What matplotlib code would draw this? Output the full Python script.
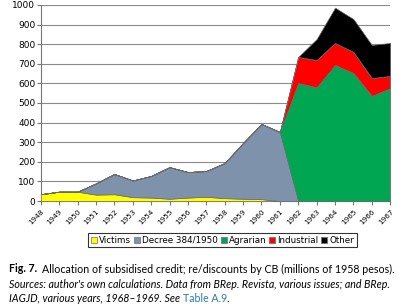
import matplotlib.pyplot as plt

# data (millions of 1958 pesos)
years = list(range(1948, 1968))
victims = [35, 48, 48, 33, 35, 20, 18, 12, 18, 22, 15, 12, 10, 0, 0, 0, 0, 0, 0, 0]
decree = [0, 0, 0, 57, 103, 85, 110, 161, 130, 131, 179, 284, 383, 352, 0, 0, 0, 0, 0, 0]
agrarian = [0, 0, 0, 0, 0, 0, 0, 0, 0, 0, 0, 0, 0, 0, 602, 580, 694, 653, 536, 576]
industrial = [0, 0, 0, 0, 0, 0, 0, 0, 0, 0, 0, 0, 0, 0, 133, 139, 112, 107, 91, 62]
other = [0, 0, 0, 0, 0, 0, 0, 0, 0, 0, 0, 0, 0, 0, 0, 107, 180, 168, 169, 168]

labels = ["Victims", "Decree 384/1950", "Agrarian", "Industrial", "Other"]
colors = ["#ffff00", "#7f92ab", "#00a651", "#ff0000", "#000000"]
yticks = list(range(0, 1001, 100))

fig = plt.figure(figsize=(4.16, 3.07), dpi=100)
ax = fig.add_axes([0.098, 0.345, 0.84, 0.639])

polys = ax.stackplot(years, victims, decree, agrarian, industrial, other,
                     colors=colors, labels=labels, zorder=3)
for p in polys:
    p.set_edgecolor("#6b6b6b")
    p.set_linewidth(0.5)

ax.set_xlim(years[0], years[-1])
ax.set_ylim(0, 1000)
ax.set_yticks(yticks)
ax.set_xticks(years)
ax.set_xticklabels([str(y) for y in years], rotation=45, ha="right",
                   rotation_mode="anchor", fontsize=5.2)
ax.tick_params(axis="y", labelsize=6.5, length=3, color="#777777", pad=1)
ax.tick_params(axis="x", length=3, color="#777777", pad=2.5)
ax.grid(axis="y", color="#8a8a8a", linewidth=0.8, zorder=1)
ax.set_axisbelow(True)
for side in ["top", "right"]:
    ax.spines[side].set_visible(False)
for side in ["left", "bottom"]:
    ax.spines[side].set_color("#777777")
    ax.spines[side].set_linewidth(0.8)

leg = ax.legend(loc="upper center", bbox_to_anchor=(0.52, -0.163), ncol=5,
                fontsize=6.3, frameon=True, fancybox=False, handlelength=0.7,
                handleheight=0.7, handletextpad=0.2, columnspacing=0.35,
                borderpad=0.3, borderaxespad=0)
leg.get_frame().set_edgecolor("black")
leg.get_frame().set_linewidth(0.8)

# caption, drawn run by run so the bold / italic / blue parts sit side by side
renderer = fig.canvas.get_renderer()
cap_font = dict(family="Lato", fontsize=7.7, va="center")


def caption_line(y_px, runs):
    x = 9
    for txt, kw in runs:
        t = fig.text(x / 416, 1 - y_px / 307, txt, **cap_font, **kw)
        x = t.get_window_extent(renderer).x1


caption_line(269, [("Fig. 7.  ", dict(fontweight="bold")),
                   ("Allocation of subsidised credit; re/discounts by CB (millions of 1958 pesos).", {})])
caption_line(284, [("Sources: author's own calculations. Data from BRep. Revista, various issues; and BRep.",
                    dict(style="italic"))])
caption_line(298, [("IAGJD, various years, 1968\u20131969. See ", dict(style="italic")),
                   ("Table A.9", dict(color="#2a7ab8")),
                   (".", {})])

fig.savefig("out.png", dpi=100)
